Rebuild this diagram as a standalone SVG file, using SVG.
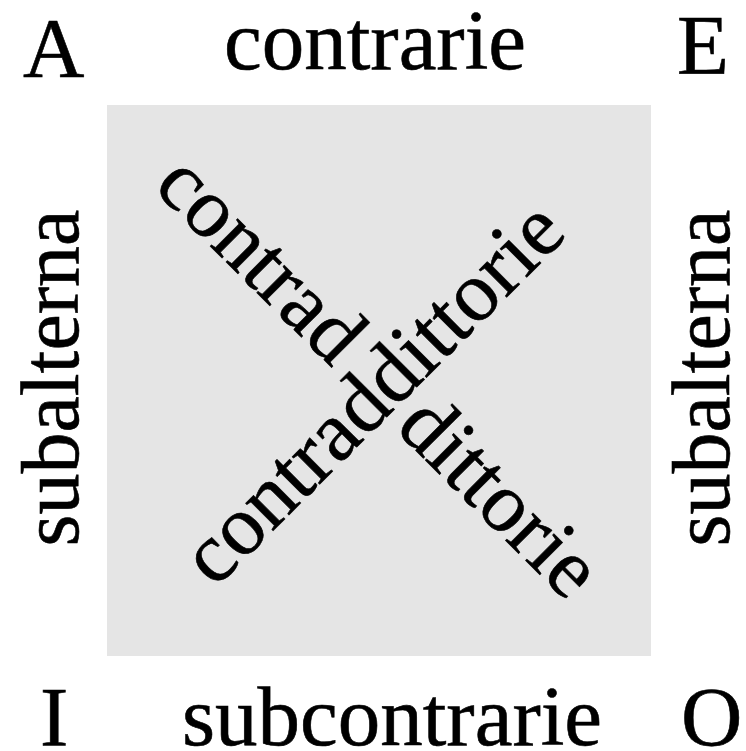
<svg xmlns="http://www.w3.org/2000/svg" width="746" height="751" viewBox="0 0 746 751">
<style>
text{font-family:"Liberation Serif","Times New Roman",serif;font-size:85px;fill:#000;stroke:#000;stroke-width:0.6}
.m{text-anchor:middle}
.s{font-size:82px}
</style>
<rect width="746" height="751" fill="#fff"/>
<g id="square"><rect x="107" y="105" width="544" height="551" fill="#e5e5e5"/></g>
<g id="A"><text x="23" y="77">A</text></g>
<g id="E"><text x="677" y="74">E</text></g>
<g id="I"><text x="40" y="746">I</text></g>
<g id="O"><text x="681" y="746">O</text></g>
<g id="connectors">
<g id="contrarie"><text class="m" x="375" y="69">contrarie</text></g>
<g id="subcontrarie"><text class="m" x="392" y="745">subcontrarie</text></g>
<g id="subalterna-left"><text class="m s" transform="translate(78,378) rotate(-90)">subalterna</text></g>
<g id="subalterna-right"><text class="m s" transform="translate(729,378) rotate(-90)">subalterna</text></g>
<g id="contraddittorie-1"><text class="m" transform="translate(392,412) rotate(-45)">contraddittorie</text></g>
<g id="contraddittorie-2"><text transform="translate(152,188) rotate(45)">contrad</text><text transform="translate(394,429) rotate(45)">dittorie</text></g>
</g>
</svg>
